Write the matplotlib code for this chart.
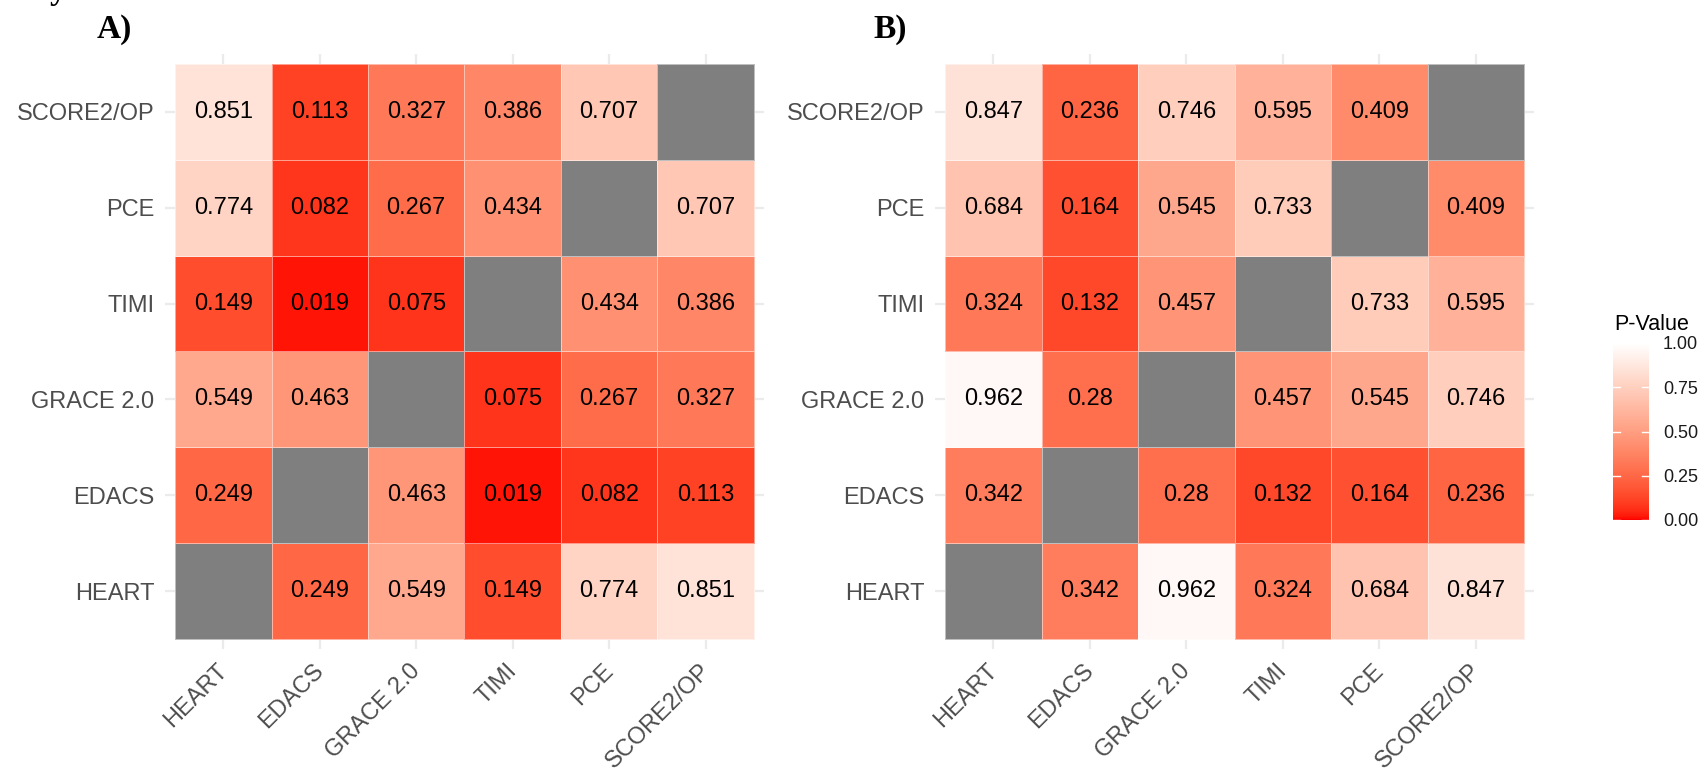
import numpy as np
import matplotlib
matplotlib.use("Agg")
import matplotlib.pyplot as plt
from matplotlib.colors import ListedColormap
from matplotlib.transforms import ScaledTranslation

# Data: pairwise p-values (row = y category, col = x category), None = diagonal
models = ["HEART", "EDACS", "GRACE 2.0", "TIMI", "PCE", "SCORE2/OP"]

# rows listed bottom (HEART) to top (SCORE2/OP)
pvals_a = [
    [None, 0.249, 0.549, 0.149, 0.774, 0.851],
    [0.249, None, 0.463, 0.019, 0.082, 0.113],
    [0.549, 0.463, None, 0.075, 0.267, 0.327],
    [0.149, 0.019, 0.075, None, 0.434, 0.386],
    [0.774, 0.082, 0.267, 0.434, None, 0.707],
    [0.851, 0.113, 0.327, 0.386, 0.707, None],
]
pvals_b = [
    [None, 0.342, 0.962, 0.324, 0.684, 0.847],
    [0.342, None, 0.28, 0.132, 0.164, 0.236],
    [0.962, 0.28, None, 0.457, 0.545, 0.746],
    [0.324, 0.132, 0.457, None, 0.733, 0.595],
    [0.684, 0.164, 0.545, 0.733, None, 0.409],
    [0.847, 0.236, 0.746, 0.595, 0.409, None],
]
panel_labels = ["A)", "B)"]
cbar_ticks = [0.0, 0.25, 0.5, 0.75, 1.0]


# red -> white gradient interpolated in CIELAB (like ggplot's scale_fill_gradient)
def srgb_to_lab(rgb):
    c = np.asarray(rgb, float)
    lin = np.where(c <= 0.04045, c / 12.92, ((c + 0.055) / 1.055) ** 2.4)
    M = np.array([[0.4124, 0.3576, 0.1805],
                  [0.2126, 0.7152, 0.0722],
                  [0.0193, 0.1192, 0.9505]])
    xyz = M @ lin / np.array([0.95047, 1.0, 1.08883])
    f = np.where(xyz > 0.008856, np.cbrt(xyz), 7.787 * xyz + 16 / 116)
    return np.array([116 * f[1] - 16, 500 * (f[0] - f[1]), 200 * (f[1] - f[2])])


def lab_to_srgb(lab):
    L, a, b = lab
    fy = (L + 16) / 116
    fx = fy + a / 500
    fz = fy - b / 200
    f = np.array([fx, fy, fz])
    xyz = np.where(f ** 3 > 0.008856, f ** 3, (f - 16 / 116) / 7.787)
    xyz = xyz * np.array([0.95047, 1.0, 1.08883])
    Minv = np.array([[3.2406, -1.5372, -0.4986],
                     [-0.9689, 1.8758, 0.0415],
                     [0.0557, -0.2040, 1.0570]])
    lin = np.clip(Minv @ xyz, 0, 1)
    c = np.where(lin <= 0.0031308, 12.92 * lin, 1.055 * lin ** (1 / 2.4) - 0.055)
    return np.clip(c, 0, 1)


lab_lo = srgb_to_lab([1, 0, 0])
lab_hi = srgb_to_lab([1, 1, 1])
cols = [lab_to_srgb(lab_lo + t * (lab_hi - lab_lo)) for t in np.linspace(0, 1, 256)]
cmap = ListedColormap(cols)
cmap.set_bad("#7F7F7F")

plt.rcParams["font.family"] = ["Liberation Sans", "DejaVu Sans"]

fig = plt.figure(figsize=(16.98, 7.73), dpi=100)

ax_pos = [[0.0974, 0.161, 0.3523, 0.7687], [0.5509, 0.161, 0.3523, 0.7687]]
label_x = [97 / 1698, 873 / 1698]

n = len(models)
mesh = None
for k, data in enumerate([pvals_a, pvals_b]):
    ax = fig.add_axes(ax_pos[k])
    arr = np.array([[np.nan if v is None else v for v in row] for row in data], float)
    marr = np.ma.masked_invalid(arr)
    edges = np.arange(n + 1) - 0.5
    mesh = ax.pcolormesh(edges, edges, marr, cmap=cmap, vmin=0, vmax=1,
                         edgecolors=(1, 1, 1, 0.5), linewidth=0.5, zorder=2)
    for i in range(n):
        for j in range(n):
            if data[i][j] is not None:
                s = f"{data[i][j]:.3f}".rstrip("0")
                ax.text(j, i, s, ha="center", va="center", fontsize=17,
                        color="black", zorder=3)
    ax.set_xlim(-0.6, n - 0.4)
    ax.set_ylim(-0.6, n - 0.4)
    ax.set_xticks(range(n))
    ax.set_yticks(range(n))
    ax.set_xticklabels(models, rotation=45, ha="right", va="top",
                       rotation_mode="anchor", fontsize=17, color="#4D4D4D")
    ax.set_yticklabels(models, fontsize=17, color="#4D4D4D")
    ax.tick_params(axis="y", length=0, pad=8)
    ax.tick_params(axis="x", length=0, pad=8)
    shift = ScaledTranslation(-0.07, 0, fig.dpi_scale_trans)
    for lab in ax.get_xticklabels():
        lab.set_transform(lab.get_transform() + shift)
    ax.grid(True, color="#EBEBEB", linewidth=1.6, zorder=0)
    ax.set_axisbelow(True)
    for sp in ax.spines.values():
        sp.set_visible(False)
    fig.text(label_x[k], 1 - 38 / 773, panel_labels[k], fontsize=24,
             fontweight="bold", family="Liberation Serif", va="baseline")

# fragment of a cut-off heading line at the very top
fig.text(50 / 1698, 1 + 1 / 773, "y", fontsize=24, fontweight="bold",
         family="Liberation Serif", va="baseline")

# colorbar legend
cax = fig.add_axes([1613 / 1698, 1 - 520 / 773, 36 / 1698, 177 / 773])
cb = fig.colorbar(mesh, cax=cax, ticks=cbar_ticks)
cb.outline.set_visible(False)
cb.ax.set_yticklabels([f"{t:.2f}" for t in cbar_ticks], fontsize=13, color="#1A1A1A")
cb.ax.tick_params(length=0, pad=10)
tr = cax.get_yaxis_transform()
for t in cbar_ticks:
    cax.plot([0, 0.2], [t, t], color="white", lw=1, transform=tr, clip_on=False)
    cax.plot([0.8, 1], [t, t], color="white", lw=1, transform=tr, clip_on=False)
fig.text(1614 / 1698, 1 - 330 / 773, "P-Value", fontsize=15.5, color="black",
         va="baseline", ha="left")

fig.savefig("out.png", dpi=100)
